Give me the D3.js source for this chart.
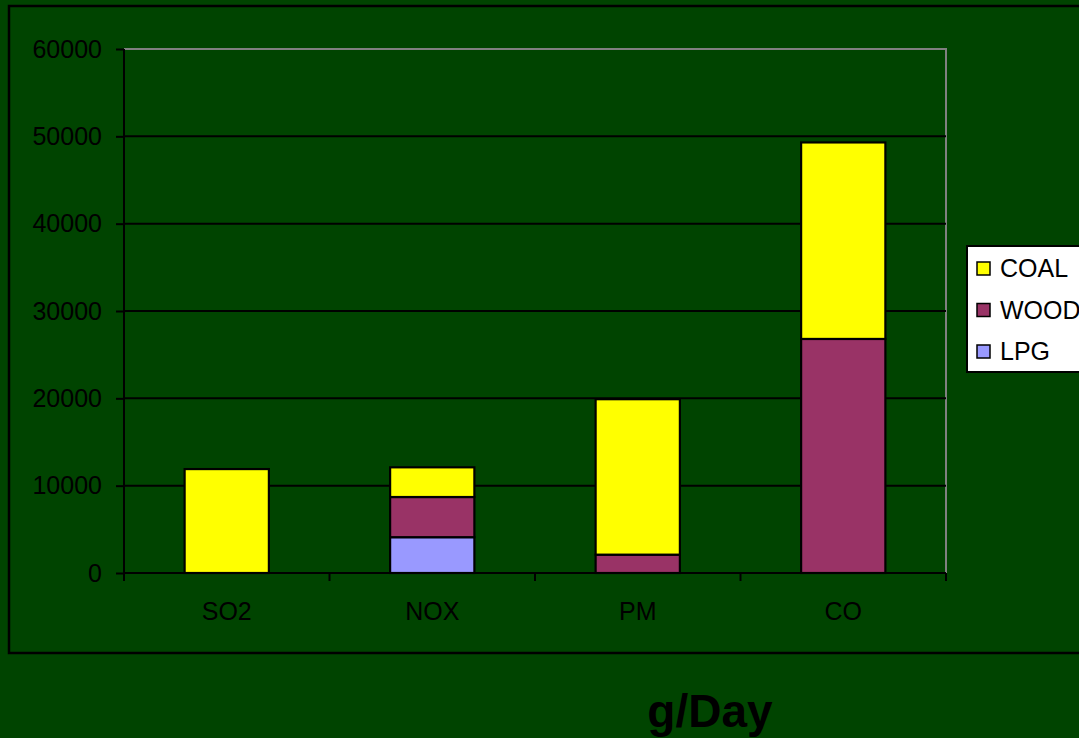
<!DOCTYPE html>
<html>
<head>
<meta charset="utf-8">
<script src="https://cdn.jsdelivr.net/npm/d3@7/dist/d3.min.js"></script>
<style>
  html, body { margin: 0; padding: 0; background: #004400; }
  svg { display: block; font-family: "Liberation Sans", Arial, sans-serif; }
</style>
</head>
<body>
<script>
// Emissions by pollutant, stacked by fuel (g/Day)
const categories = ["SO2", "NOX", "PM", "CO"];
const seriesNames = ["LPG", "WOOD", "COAL"];
const lpgValues  = [0, 4100, 0, 0];
const woodValues = [0, 4600, 2100, 26800];
const coalValues = [11900, 3400, 17800, 22500];
const yTicks = [0, 10000, 20000, 30000, 40000, 50000, 60000];
const legendOrder = ["COAL", "WOOD", "LPG"];
const colors = { LPG: "#9999ff", WOOD: "#993366", COAL: "#ffff00" };
const titleText = "g/Day";

const W = 1079, H = 738;
const plot = { left: 124, right: 946, top: 49, bottom: 573 };

const rows = categories.map((c, i) => ({
  category: c, LPG: lpgValues[i], WOOD: woodValues[i], COAL: coalValues[i]
}));
const stacked = d3.stack().keys(seriesNames)(rows);

const svg = d3.select("body").append("svg").attr("width", W).attr("height", H);

// background and outer frame
svg.append("rect").attr("width", W).attr("height", H).attr("fill", "#004400");
svg.append("rect").attr("x", 9).attr("y", 6).attr("width", 1100).attr("height", 647)
  .attr("fill", "none").attr("stroke", "#000").attr("stroke-width", 2.5);

const x = d3.scaleBand().domain(categories)
  .range([plot.left, plot.right]).paddingInner(0.59).paddingOuter(0.295);
const y = d3.scaleLinear().domain([0, 60000]).range([plot.bottom, plot.top]);

// plot area border: gray top and right
svg.append("path")
  .attr("d", `M${plot.left},${plot.top}H${plot.right}V${plot.bottom}`)
  .attr("fill", "none").attr("stroke", "#808080").attr("stroke-width", 2);

// horizontal gridlines
svg.append("g").selectAll("line").data(yTicks.filter(t => t > 0 && t < 60000)).join("line")
  .attr("x1", plot.left).attr("x2", plot.right)
  .attr("y1", d => y(d)).attr("y2", d => y(d))
  .attr("stroke", "#000").attr("stroke-width", 2);

// stacked bars
svg.append("g").selectAll("g").data(stacked).join("g")
  .attr("fill", d => colors[d.key])
  .selectAll("rect").data(d => d.filter(s => s[1] - s[0] > 0)).join("rect")
  .attr("x", d => x(d.data.category))
  .attr("width", x.bandwidth())
  .attr("y", d => y(d[1]))
  .attr("height", d => y(d[0]) - y(d[1]))
  .attr("stroke", "#000").attr("stroke-width", 2.2);

// y axis
const yAxis = svg.append("g").attr("transform", `translate(${plot.left},0)`)
  .call(d3.axisLeft(y).tickValues(yTicks).tickFormat(d3.format("d")).tickSize(8).tickPadding(14));
yAxis.select(".domain").attr("stroke", "#000").attr("stroke-width", 2)
  .attr("d", `M0,${plot.top}V${plot.bottom + 8}`);
yAxis.selectAll(".tick line").attr("stroke", "#000").attr("stroke-width", 2);
yAxis.selectAll(".tick text").attr("fill", "#000").attr("font-size", 25)
  .attr("font-family", "Liberation Sans, Arial, sans-serif");

// x axis: ticks at category boundaries
const xAxisG = svg.append("g");
xAxisG.append("line").attr("x1", plot.left).attr("x2", plot.right)
  .attr("y1", plot.bottom).attr("y2", plot.bottom)
  .attr("stroke", "#000").attr("stroke-width", 2);
const edges = d3.range(categories.length + 1).map(i => plot.left + i * x.step());
xAxisG.selectAll("line.tick").data(edges).join("line").attr("class", "tick")
  .attr("x1", d => d).attr("x2", d => d)
  .attr("y1", plot.bottom).attr("y2", plot.bottom + 8)
  .attr("stroke", "#000").attr("stroke-width", 2);
xAxisG.selectAll("text").data(categories).join("text")
  .attr("x", d => x(d) + x.bandwidth() / 2).attr("y", 620)
  .attr("text-anchor", "middle").attr("font-size", 25).attr("fill", "#000")
  .text(d => d);

// legend
const lg = svg.append("g").attr("transform", "translate(967,246)");
lg.append("rect").attr("width", 140).attr("height", 126)
  .attr("fill", "#fff").attr("stroke", "#000").attr("stroke-width", 2);
const items = lg.selectAll("g").data(legendOrder).join("g")
  .attr("transform", (d, i) => `translate(0,${i * 41.5})`);
items.append("rect").attr("x", 10).attr("y", 16).attr("width", 13).attr("height", 13)
  .attr("fill", d => colors[d]).attr("stroke", "#000").attr("stroke-width", 1.5);
items.append("text").attr("x", 33).attr("y", 31).attr("font-size", 25).attr("fill", "#000")
  .text(d => d);

// title
svg.append("text").attr("x", 710).attr("y", 727).attr("text-anchor", "middle")
  .attr("font-size", 46).attr("font-weight", "bold").attr("fill", "#000")
  .text(titleText);
</script>
</body>
</html>
